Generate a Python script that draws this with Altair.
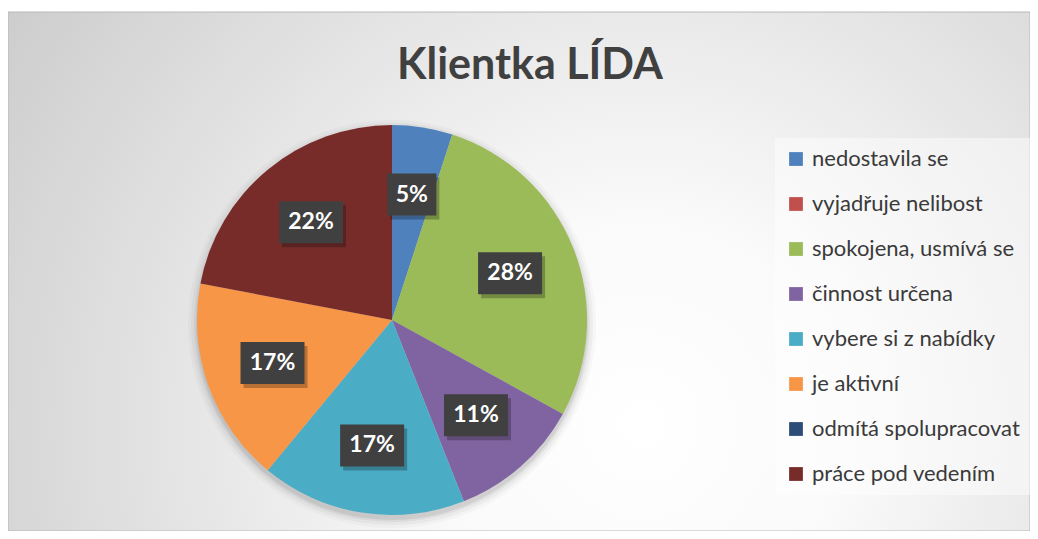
import altair as alt
import pandas as pd

# ---- data ----
categories = [
    "nedostavila se",
    "vyjadřuje nelibost",
    "spokojena, usmívá se",
    "činnost určena",
    "vybere si z nabídky",
    "je aktivní",
    "odmítá spolupracovat",
    "práce pod vedením",
]
values = [5, 0, 28, 11, 17, 17, 0, 22]
colors = ["#4F81BD", "#C0504D", "#9BBB59", "#8064A2", "#4BACC6", "#F79646", "#2C4D75", "#772C2A"]
title_text = "Klientka LÍDA"

# ---- layout ----
W, H = 1022, 523
CX, CY, R = 384, 312, 195
LR = 127  # label radius
FONT = "Lato"

df = pd.DataFrame({"category": categories, "value": values, "idx": list(range(len(categories)))})
base = alt.Chart(df)
one = alt.Chart(pd.DataFrame({"a": [0]}))

bg = one.mark_rect(
    fill=alt.Gradient(
        gradient="radial",
        stops=[
            alt.GradientStop(color="#ffffff", offset=0),
            alt.GradientStop(color="#fafafa", offset=0.25),
            alt.GradientStop(color="#c8c8c8", offset=1),
        ],
        x1=0.62, y1=0.65, r1=0, x2=0.62, y2=0.65, r2=0.8,
    ),
    stroke="#b8b8b8",
    strokeWidth=1,
).encode(x=alt.value(0), x2=alt.value(W), y=alt.value(4), y2=alt.value(H))

title = one.mark_text(
    font=FONT, fontSize=43, fontWeight="bold", color="#404040", align="center", baseline="alphabetic"
).encode(x=alt.value(522), y=alt.value(71), text=alt.value(title_text))

shadows = []
for k, op in [(9, 0.025), (6, 0.035), (3, 0.05), (1, 0.07)]:
    shadows.append(
        base.mark_arc(radius=R + k, color="#000000", opacity=op).encode(
            theta=alt.Theta("value:Q", stack=True),
            order=alt.Order("idx:Q"),
            x=alt.value(CX),
            y=alt.value(CY + 4),
        )
    )

pie = base.mark_arc(radius=R).encode(
    theta=alt.Theta("value:Q", stack=True),
    order=alt.Order("idx:Q"),
    color=alt.Color(
        "category:N",
        scale=alt.Scale(domain=categories, range=colors),
        legend=alt.Legend(
            title=None,
            orient="none",
            legendX=767,
            legendY=130,
            padding=10,
            fillColor="rgba(255,255,255,0.45)",
            symbolType="square",
            symbolSize=190,
            symbolStrokeWidth=0,
            labelFont=FONT,
            labelFontSize=22,
            labelColor="#3a3a3a",
            labelLimit=300,
            rowPadding=23,
            labelOffset=5,
        ),
    ),
    x=alt.value(CX),
    y=alt.value(CY),
)

lab = (
    base.transform_joinaggregate(total="sum(value)")
    .transform_window(cum="sum(value)", sort=[alt.SortField("idx")], frame=[None, 0])
    .transform_filter("datum.value > 0")
    .transform_calculate(
        mid="(datum.cum - datum.value / 2) / datum.total * 2 * PI",
        label="round(datum.value / datum.total * 100) + '%'",
    )
    .transform_calculate(
        px=f"{CX} + {LR} * sin(datum.mid)",
        py=f"{CY} - {LR} * cos(datum.mid)",
        bw="length(datum.label) > 2 ? 64 : 49",
    )
    .transform_calculate(
        bx1="datum.px - datum.bw / 2",
        bx2="datum.px + datum.bw / 2",
        by1="datum.py - 21",
        by2="datum.py + 21",
        sx1="datum.px - datum.bw / 2 + 3",
        sx2="datum.px + datum.bw / 2 + 3",
        sy1="datum.py - 21 + 4",
        sy2="datum.py + 21 + 4",
    )
)

box_shadow = lab.mark_rect(color="#000000", opacity=0.25).encode(
    x=alt.X("sx1:Q", scale=None, axis=None),
    x2="sx2:Q",
    y=alt.Y("sy1:Q", scale=None, axis=None),
    y2="sy2:Q",
)
box = lab.mark_rect(color="#404040").encode(
    x=alt.X("bx1:Q", scale=None, axis=None),
    x2="bx2:Q",
    y=alt.Y("by1:Q", scale=None, axis=None),
    y2="by2:Q",
)
text = lab.mark_text(
    color="#ffffff", font=FONT, fontWeight="bold", fontSize=23, align="center", baseline="middle"
).encode(
    x=alt.X("px:Q", scale=None, axis=None),
    y=alt.Y("py:Q", scale=None, axis=None),
    text="label:N",
)

chart = (
    alt.layer(bg, title, *shadows, pie, box_shadow, box, text)
    .properties(width=W, height=H, padding=0, autosize="none")
    .configure_view(stroke=None)
)

chart.save("out.html", embed_options={"renderer": "svg", "actions": False})
